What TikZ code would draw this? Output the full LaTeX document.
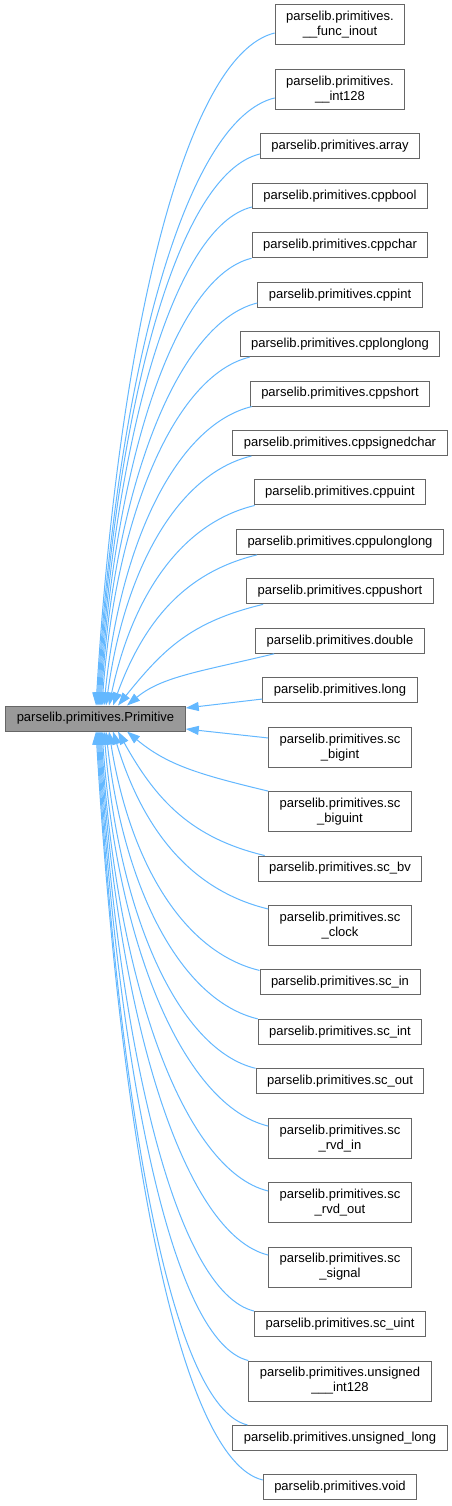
\documentclass[tikz,border=0pt]{standalone}
\usepackage{fontspec}
\setmainfont{Liberation Sans}
\usetikzlibrary{arrows.meta,calc}
\definecolor{edgeblue}{HTML}{63B8FF}
\definecolor{boxgray}{HTML}{666666}
\definecolor{primfill}{HTML}{999999}
\newcommand\inh[4]{\draw[edge] #1 .. controls +#3 and +#4 .. #2;}
\begin{document}
\begin{tikzpicture}[x=1pt,y=-1pt,
  cls/.style={draw=boxgray,line width=1pt,fill=white,inner xsep=11pt,inner ysep=0pt,
    minimum height=25pt,font=\fontsize{13}{15}\selectfont,align=center},
  cls2/.style={cls,minimum height=40pt},
  primcls/.style={cls,fill=primfill},
  edge/.style={draw=edgeblue,line width=1pt,-{Triangle[length=13pt,width=9pt]}}]
\path[fill=white] (0,0) rectangle (452,1506);
\useasboundingbox (0,0) rectangle (452,1506);

\node[primcls] (p) at (95.5,718.5) {parselib.primitives.Primitive};

\node[cls2] (n1)  at (340,25)      {parselib.primitives.\\\_\_func\_inout};
\node[cls2] (n2)  at (340,89.44)   {parselib.primitives.\\\_\_int128};
\node[cls]  (n3)  at (340,146.38)  {parselib.primitives.array};
\node[cls]  (n4)  at (340,195.82)  {parselib.primitives.cppbool};
\node[cls]  (n5)  at (340,245.26)  {parselib.primitives.cppchar};
\node[cls]  (n6)  at (340,294.7)   {parselib.primitives.cppint};
\node[cls]  (n7)  at (340,344.14)  {parselib.primitives.cpplonglong};
\node[cls]  (n8)  at (340,393.58)  {parselib.primitives.cppshort};
\node[cls]  (n9)  at (340,443.02)  {parselib.primitives.cppsignedchar};
\node[cls]  (n10) at (340,492.46)  {parselib.primitives.cppuint};
\node[cls]  (n11) at (340,541.9)   {parselib.primitives.cppulonglong};
\node[cls]  (n12) at (340,591.34)  {parselib.primitives.cppushort};
\node[cls]  (n13) at (340,640.78)  {parselib.primitives.double};
\node[cls]  (n14) at (340,690.22)  {parselib.primitives.long};
\node[cls2] (n15) at (340,747.16)  {parselib.primitives.sc\\\_bigint};
\node[cls2] (n16) at (340,811.6)   {parselib.primitives.sc\\\_biguint};
\node[cls]  (n17) at (340,868.54)  {parselib.primitives.sc\_bv};
\node[cls2] (n18) at (340,925.48)  {parselib.primitives.sc\\\_clock};
\node[cls]  (n19) at (340,982.42)  {parselib.primitives.sc\_in};
\node[cls]  (n20) at (340,1031.86) {parselib.primitives.sc\_int};
\node[cls]  (n21) at (340,1081.3)  {parselib.primitives.sc\_out};
\node[cls2] (n22) at (340,1138.24) {parselib.primitives.sc\\\_rvd\_in};
\node[cls2] (n23) at (340,1202.68) {parselib.primitives.sc\\\_rvd\_out};
\node[cls2] (n24) at (340,1267.12) {parselib.primitives.sc\\\_signal};
\node[cls]  (n25) at (340,1324.06) {parselib.primitives.sc\_uint};
\node[cls2] (n26) at (340,1381)    {parselib.primitives.unsigned\\\_\_\_int128};
\node[cls]  (n27) at (340,1437.94) {parselib.primitives.unsigned\_long};
\node[cls]  (n28) at (340,1487.38) {parselib.primitives.void};

% edges from the upper classes
\inh{($(n1.west)+(0,8)$)}{($(p.north)+(0.5,0)$)}{(-89.5,21.5)}{(22.2,-370.2)}
\inh{($(n2.west)+(0,8.5)$)}{($(p.north)+(1.5,0)$)}{(-89,21.4)}{(20.1,-334.4)}
\inh{($(n3.west)+(0,7.6)$)}{($(p.north)+(2.5,0)$)}{(-81.5,19.6)}{(18.2,-303.6)}
\inh{($(n4.west)+(0,11.2)$)}{($(p.north)+(3.5,0)$)}{(-76.5,18.4)}{(16.5,-274.5)}
\inh{(n5.south west)}{($(p.north)+(4.5,0)$)}{(-76,18.2)}{(14.8,-246.5)}
\inh{($(n6.west)+(0,8.3)$)}{($(p.north)+(5.5,0)$)}{(-78.5,18.8)}{(13.5,-221.7)}
\inh{($(n7.south west)+(10,0)$)}{($(p.north)+(6.5,0)$)}{(-74,17.8)}{(13.8,-192.2)}
\inh{($(n8.south west)+(2,0)$)}{($(p.north)+(8.5,0)$)}{(-74,17.8)}{(16.1,-165)}
\inh{($(n9.south west)+(19,0)$)}{($(p.north)+(10.5,0)$)}{(-73,17.5)}{(18.7,-137.8)}
\inh{($(n10.south west)+(1,0)$)}{($(p.north)+(13.5,0)$)}{(-73,17.5)}{(23.3,-110.6)}
\inh{($(n11.south west)+(21,0)$)}{($(p.north)+(17.5,0)$)}{(-72.5,17.4)}{(30.5,-83.4)}
\inh{($(n12.south west)+(17,0)$)}{($(p.north)+(22.5,0)$)}{(-72.5,17.4)}{(45.3,-56.2)}
\inh{($(n13.south west)+(19,0)$)}{($(p.north)+(31.5,0)$)}{(-74,17.8)}{(34.8,-29)}
\draw[edge] ($(n14.west)+(0,8.8)$) -- ($(p.east)+(0,-10.5)$);
% edges from the lower classes
\draw[edge] ($(n15.west)+(0,-9.2)$) -- ($(p.east)+(0,10.5)$);
\inh{(n16.north west)}{($(p.south)+(31.5,0)$)}{(-70.5,-16.9)}{(40,33.3)}
\inh{($(n17.north west)+(7,0)$)}{($(p.south)+(22.5,0)$)}{(-73.5,-17.6)}{(38,68.75)}
\inh{($(n18.west)+(0,-16.5)$)}{($(p.south)+(17.5,0)$)}{(-77.5,-18.6)}{(29.7,97.9)}
\inh{($(n19.north west)+(0,1)$)}{($(p.south)+(13.5,0)$)}{(-75.5,-18.1)}{(20.9,132)}
\inh{(n20.north west)}{($(p.south)+(10.5,0)$)}{(-76,-18.2)}{(17.6,159)}
\inh{(n21.north west)}{($(p.south)+(8.5,0)$)}{(-76,-18.2)}{(15,185.9)}
\inh{($(n22.west)+(0,-12.2)$)}{($(p.south)+(6.5,0)$)}{(-83,-19.9)}{(15.3,217.25)}
\inh{($(n23.west)+(0,-11.7)$)}{($(p.south)+(5.5,0)$)}{(-83.5,-20)}{(15.2,253)}
\inh{($(n24.west)+(0,-12.1)$)}{($(p.south)+(4.5,0)$)}{(-84,-20.2)}{(17.3,288.2)}
\inh{(n25.north west)}{($(p.south)+(3.5,0)$)}{(-77.5,-18.6)}{(19.2,319.55)}
\inh{(n26.north west)}{($(p.south)+(2.5,0)$)}{(-75.5,-18.1)}{(20.8,346.8)}
\inh{($(n27.north west)+(15,0)$)}{($(p.south)+(1.5,0)$)}{(-75.5,-18.1)}{(22.9,381.9)}
\inh{($(n28.west)+(0,-7.4)$)}{($(p.south)+(0.5,0)$)}{(-83.5,-20)}{(24.7,412)}
\end{tikzpicture}
\end{document}
